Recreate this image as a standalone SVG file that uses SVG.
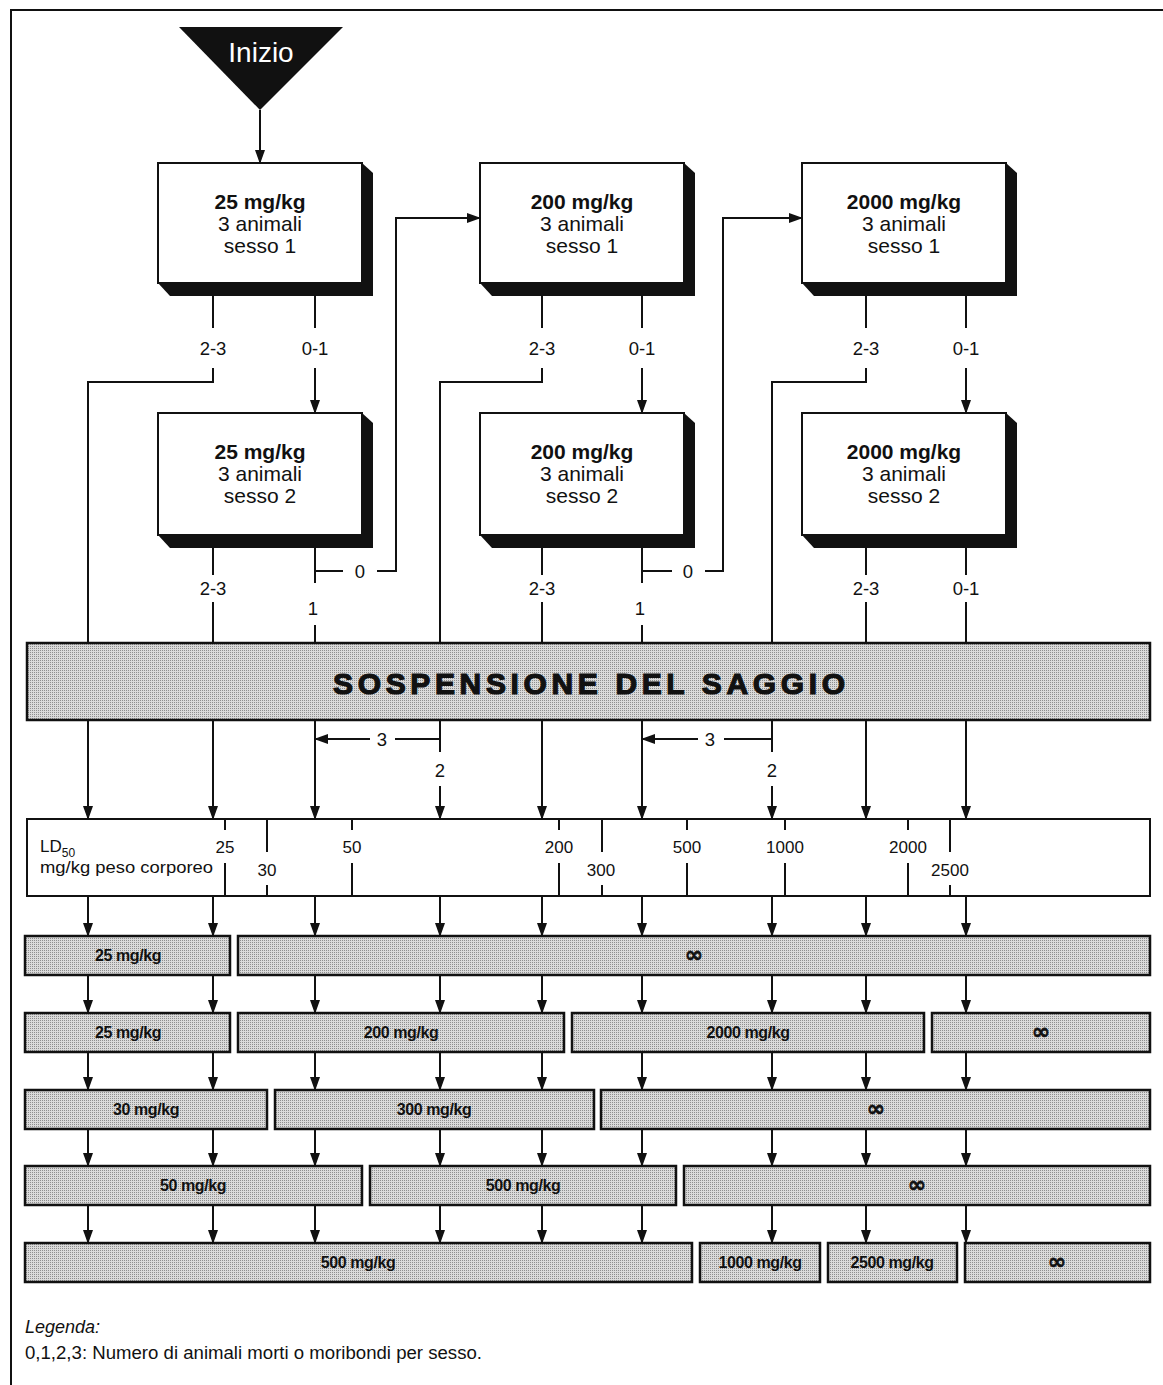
<svg xmlns="http://www.w3.org/2000/svg" width="1163" height="1385" viewBox="0 0 1163 1385">
  <style>
    .ln { stroke: #111; stroke-width: 2; fill: none; }
    .arr { marker-end: url(#ah); }
    .box { fill: #fff; stroke: #111; stroke-width: 2; }
    .shd { fill: #111; }
    .bar { fill: url(#dots); stroke: #111; stroke-width: 2.5; }
    .t { font-family: "Liberation Sans", Arial, sans-serif; fill: #111; }
    .bt { font-size: 21px; text-anchor: middle; }
    .bb { font-weight: bold; }
    .lbl { font-size: 18.5px; text-anchor: middle; }
    .sc { font-size: 17px; text-anchor: middle; }
    .gt { font-size: 16px; font-weight: bold; text-anchor: middle; letter-spacing: -0.4px; }
    .inf { font-family: "DejaVu Sans", sans-serif; font-size: 22px; font-weight: bold; text-anchor: middle; fill: #111; stroke: #111; stroke-width: 0.6; }
  </style>
  <defs>
    <marker id="ah" markerUnits="userSpaceOnUse" markerWidth="14" markerHeight="10" refX="13" refY="5" orient="auto">
      <path d="M0,0 L14,5 L0,10 Z" fill="#111"/>
    </marker>
    <pattern id="dots" width="2" height="2" patternUnits="userSpaceOnUse">
      <rect width="2" height="2" fill="#dadada"/>
      <rect width="1" height="1" fill="#8e8e8e"/>
    </pattern>
  </defs>

  <rect width="1163" height="1385" fill="#fff"/>

  <!-- outer frame (top and left rules) -->
  <path class="ln" d="M10,10 H1163 M11,10 V1385" stroke-width="2.5"/>

  <!-- start marker -->
  <g id="start">
    <polygon points="179,27 343,27 260,110" fill="#111"/>
    <text class="t" x="261" y="62" font-size="28" text-anchor="middle" style="fill:#fff">Inizio</text>
  </g>

  <!-- dose boxes, first sex -->
  <g id="box-25-s1">
    <polygon class="shd" points="362,163 373,173 373,296 170,296 158,283"/>
    <rect class="box" x="158" y="163" width="204" height="120"/>
    <text class="t bt bb" x="260" y="209">25 mg/kg</text>
    <text class="t bt" x="260" y="231">3 animali</text>
    <text class="t bt" x="260" y="253">sesso 1</text>
  </g>
  <g id="box-200-s1">
    <polygon class="shd" points="684,163 695,173 695,296 492,296 480,283"/>
    <rect class="box" x="480" y="163" width="204" height="120"/>
    <text class="t bt bb" x="582" y="209">200 mg/kg</text>
    <text class="t bt" x="582" y="231">3 animali</text>
    <text class="t bt" x="582" y="253">sesso 1</text>
  </g>
  <g id="box-2000-s1">
    <polygon class="shd" points="1006,163 1017,173 1017,296 814,296 802,283"/>
    <rect class="box" x="802" y="163" width="204" height="120"/>
    <text class="t bt bb" x="904" y="209">2000 mg/kg</text>
    <text class="t bt" x="904" y="231">3 animali</text>
    <text class="t bt" x="904" y="253">sesso 1</text>
  </g>

  <!-- dose boxes, second sex -->
  <g id="box-25-s2">
    <polygon class="shd" points="362,413 373,423 373,548 170,548 158,535"/>
    <rect class="box" x="158" y="413" width="204" height="122"/>
    <text class="t bt bb" x="260" y="459">25 mg/kg</text>
    <text class="t bt" x="260" y="481">3 animali</text>
    <text class="t bt" x="260" y="503">sesso 2</text>
  </g>
  <g id="box-200-s2">
    <polygon class="shd" points="684,413 695,423 695,548 492,548 480,535"/>
    <rect class="box" x="480" y="413" width="204" height="122"/>
    <text class="t bt bb" x="582" y="459">200 mg/kg</text>
    <text class="t bt" x="582" y="481">3 animali</text>
    <text class="t bt" x="582" y="503">sesso 2</text>
  </g>
  <g id="box-2000-s2">
    <polygon class="shd" points="1006,413 1017,423 1017,548 814,548 802,535"/>
    <rect class="box" x="802" y="413" width="204" height="122"/>
    <text class="t bt bb" x="904" y="459">2000 mg/kg</text>
    <text class="t bt" x="904" y="481">3 animali</text>
    <text class="t bt" x="904" y="503">sesso 2</text>
  </g>

  <!-- stop bar -->
  <g id="stop">
    <rect class="bar" x="27" y="643" width="1123" height="77"/>
    <text class="t bb" x="589" y="694" font-size="30" text-anchor="middle" stroke="#111" stroke-width="1.2" textLength="512" lengthAdjust="spacing">SOSPENSIONE DEL SAGGIO</text>
  </g>

  <!-- LD50 scale -->
  <g id="ld50-scale">
    <rect class="box" x="27" y="819" width="1123" height="77"/>
    <text class="t" x="40" y="852" font-size="17">LD<tspan font-size="12" dy="5">50</tspan></text>
    <text class="t" x="40" y="873" font-size="17" textLength="173" lengthAdjust="spacingAndGlyphs">mg/kg peso corporeo</text>
    <path class="ln" d="M225,819 V830 M225,863 V896
                         M267,819 V852 M267,885 V896
                         M352,819 V830 M352,863 V896
                         M559,819 V830 M559,863 V896
                         M602,819 V852 M602,885 V896
                         M687,819 V830 M687,863 V896
                         M785,819 V830 M785,863 V896
                         M908,819 V830 M908,863 V896
                         M950,819 V852 M950,885 V896"/>
    <text class="t sc" x="225" y="853">25</text>
    <text class="t sc" x="267" y="876">30</text>
    <text class="t sc" x="352" y="853">50</text>
    <text class="t sc" x="559" y="853">200</text>
    <text class="t sc" x="601" y="876">300</text>
    <text class="t sc" x="687" y="853">500</text>
    <text class="t sc" x="785" y="853">1000</text>
    <text class="t sc" x="908" y="853">2000</text>
    <text class="t sc" x="950" y="876">2500</text>
  </g>

  <!-- result rows -->
  <g id="row1">
    <rect class="bar" x="25" y="936" width="205" height="39"/>
    <text class="t gt" x="128" y="961">25 mg/kg</text>
    <rect class="bar" x="238" y="936" width="912" height="39"/>
    <text class="inf" x="694" y="962">∞</text>
  </g>
  <g id="row2">
    <rect class="bar" x="25" y="1013" width="205" height="39"/>
    <text class="t gt" x="128" y="1038">25 mg/kg</text>
    <rect class="bar" x="238" y="1013" width="326" height="39"/>
    <text class="t gt" x="401" y="1038">200 mg/kg</text>
    <rect class="bar" x="572" y="1013" width="352" height="39"/>
    <text class="t gt" x="748" y="1038">2000 mg/kg</text>
    <rect class="bar" x="932" y="1013" width="218" height="39"/>
    <text class="inf" x="1041" y="1039">∞</text>
  </g>
  <g id="row3">
    <rect class="bar" x="25" y="1090" width="242" height="39"/>
    <text class="t gt" x="146" y="1115">30 mg/kg</text>
    <rect class="bar" x="275" y="1090" width="319" height="39"/>
    <text class="t gt" x="434" y="1115">300 mg/kg</text>
    <rect class="bar" x="601" y="1090" width="549" height="39"/>
    <text class="inf" x="876" y="1116">∞</text>
  </g>
  <g id="row4">
    <rect class="bar" x="25" y="1166" width="337" height="39"/>
    <text class="t gt" x="193" y="1191">50 mg/kg</text>
    <rect class="bar" x="370" y="1166" width="306" height="39"/>
    <text class="t gt" x="523" y="1191">500 mg/kg</text>
    <rect class="bar" x="684" y="1166" width="466" height="39"/>
    <text class="inf" x="917" y="1192">∞</text>
  </g>
  <g id="row5">
    <rect class="bar" x="25" y="1243" width="667" height="39"/>
    <text class="t gt" x="358" y="1268">500 mg/kg</text>
    <rect class="bar" x="700" y="1243" width="120" height="39"/>
    <text class="t gt" x="760" y="1268">1000 mg/kg</text>
    <rect class="bar" x="828" y="1243" width="129" height="39"/>
    <text class="t gt" x="892" y="1268">2500 mg/kg</text>
    <rect class="bar" x="965" y="1243" width="185" height="39"/>
    <text class="inf" x="1057" y="1269">∞</text>
  </g>

  <!-- connectors -->
  <g id="connectors">
    <path class="ln arr" d="M260,110 V163"/>

    <!-- column 25 mg/kg -->
    <path class="ln" d="M213,296 V328 M213,368 V382 H88 V643"/>
    <path class="ln" d="M315,296 V328"/>
    <path class="ln arr" d="M315,368 V413"/>
    <path class="ln" d="M213,548 V575 M213,602 V643"/>
    <path class="ln" d="M315,548 V583 M315,571 H343 M315,625 V643"/>
    <path class="ln arr" d="M377,571 H396 V218 H480"/>

    <!-- column 200 mg/kg -->
    <path class="ln" d="M542,296 V328 M542,368 V382 H440 V643"/>
    <path class="ln" d="M642,296 V328"/>
    <path class="ln arr" d="M642,368 V413"/>
    <path class="ln" d="M542,548 V575 M542,602 V643"/>
    <path class="ln" d="M642,548 V583 M642,571 H672 M642,625 V643"/>
    <path class="ln arr" d="M705,571 H723 V218 H802"/>

    <!-- column 2000 mg/kg -->
    <path class="ln" d="M866,296 V328 M866,368 V382 H772 V643"/>
    <path class="ln" d="M966,296 V328"/>
    <path class="ln arr" d="M966,368 V413"/>
    <path class="ln" d="M866,548 V575 M866,602 V643"/>
    <path class="ln" d="M966,548 V575 M966,602 V643"/>

    <text class="t lbl" x="213" y="355">2-3</text>
    <text class="t lbl" x="315" y="355">0-1</text>
    <text class="t lbl" x="542" y="355">2-3</text>
    <text class="t lbl" x="642" y="355">0-1</text>
    <text class="t lbl" x="866" y="355">2-3</text>
    <text class="t lbl" x="966" y="355">0-1</text>
    <text class="t lbl" x="213" y="595">2-3</text>
    <text class="t lbl" x="313" y="615">1</text>
    <text class="t lbl" x="360" y="578">0</text>
    <text class="t lbl" x="542" y="595">2-3</text>
    <text class="t lbl" x="640" y="615">1</text>
    <text class="t lbl" x="688" y="578">0</text>
    <text class="t lbl" x="866" y="595">2-3</text>
    <text class="t lbl" x="966" y="595">0-1</text>

    <!-- from stop bar to LD50 scale -->
    <path class="ln arr" d="M88,720 V819"/>
    <path class="ln arr" d="M213,720 V819"/>
    <path class="ln arr" d="M315,720 V819"/>
    <path class="ln" d="M440,720 V752 M440,739 H395"/>
    <path class="ln arr" d="M370,739 H315"/>
    <path class="ln arr" d="M440,786 V819"/>
    <path class="ln arr" d="M542,720 V819"/>
    <path class="ln arr" d="M642,720 V819"/>
    <path class="ln" d="M772,720 V752 M772,739 H724"/>
    <path class="ln arr" d="M698,739 H642"/>
    <path class="ln arr" d="M772,786 V819"/>
    <path class="ln arr" d="M866,720 V819"/>
    <path class="ln arr" d="M966,720 V819"/>
    <text class="t lbl" x="382" y="746">3</text>
    <text class="t lbl" x="440" y="777">2</text>
    <text class="t lbl" x="710" y="746">3</text>
    <text class="t lbl" x="772" y="777">2</text>

    <!-- LD50 scale to row 1 -->
    <path class="ln arr" d="M88,896 V936"/>
    <path class="ln arr" d="M213,896 V936"/>
    <path class="ln arr" d="M315,896 V936"/>
    <path class="ln arr" d="M440,896 V936"/>
    <path class="ln arr" d="M542,896 V936"/>
    <path class="ln arr" d="M642,896 V936"/>
    <path class="ln arr" d="M772,896 V936"/>
    <path class="ln arr" d="M866,896 V936"/>
    <path class="ln arr" d="M966,896 V936"/>

    <!-- row 1 to row 2 -->
    <path class="ln arr" d="M88,975 V1013"/>
    <path class="ln arr" d="M213,975 V1013"/>
    <path class="ln arr" d="M315,975 V1013"/>
    <path class="ln arr" d="M440,975 V1013"/>
    <path class="ln arr" d="M542,975 V1013"/>
    <path class="ln arr" d="M642,975 V1013"/>
    <path class="ln arr" d="M772,975 V1013"/>
    <path class="ln arr" d="M866,975 V1013"/>
    <path class="ln arr" d="M966,975 V1013"/>

    <!-- row 2 to row 3 -->
    <path class="ln arr" d="M88,1052 V1090"/>
    <path class="ln arr" d="M213,1052 V1090"/>
    <path class="ln arr" d="M315,1052 V1090"/>
    <path class="ln arr" d="M440,1052 V1090"/>
    <path class="ln arr" d="M542,1052 V1090"/>
    <path class="ln arr" d="M642,1052 V1090"/>
    <path class="ln arr" d="M772,1052 V1090"/>
    <path class="ln arr" d="M866,1052 V1090"/>
    <path class="ln arr" d="M966,1052 V1090"/>

    <!-- row 3 to row 4 -->
    <path class="ln arr" d="M88,1129 V1166"/>
    <path class="ln arr" d="M213,1129 V1166"/>
    <path class="ln arr" d="M315,1129 V1166"/>
    <path class="ln arr" d="M440,1129 V1166"/>
    <path class="ln arr" d="M542,1129 V1166"/>
    <path class="ln arr" d="M642,1129 V1166"/>
    <path class="ln arr" d="M772,1129 V1166"/>
    <path class="ln arr" d="M866,1129 V1166"/>
    <path class="ln arr" d="M966,1129 V1166"/>

    <!-- row 4 to row 5 -->
    <path class="ln arr" d="M88,1205 V1243"/>
    <path class="ln arr" d="M213,1205 V1243"/>
    <path class="ln arr" d="M315,1205 V1243"/>
    <path class="ln arr" d="M440,1205 V1243"/>
    <path class="ln arr" d="M542,1205 V1243"/>
    <path class="ln arr" d="M642,1205 V1243"/>
    <path class="ln arr" d="M772,1205 V1243"/>
    <path class="ln arr" d="M866,1205 V1243"/>
    <path class="ln arr" d="M966,1205 V1243"/>
  </g>

  <!-- legend -->
  <g id="legend">
    <text class="t" x="25" y="1333" font-size="18" font-style="italic">Legenda:</text>
    <text class="t" x="25" y="1359" font-size="17.5" textLength="457" lengthAdjust="spacingAndGlyphs">0,1,2,3: Numero di animali morti o moribondi per sesso.</text>
  </g>
</svg>
